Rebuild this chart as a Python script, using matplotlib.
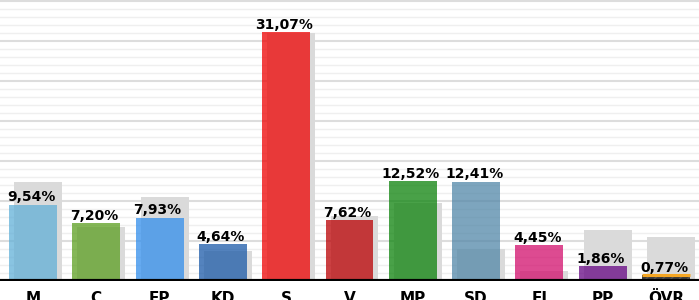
import numpy as np
import matplotlib
matplotlib.use('Agg')
import matplotlib.pyplot as plt
from matplotlib.transforms import blended_transform_factory

parties = ['M', 'C', 'FP', 'KD', 'S', 'V', 'MP', 'SD', 'FI', 'PP', 'ÖVR']
result = [9.54, 7.20, 7.93, 4.64, 31.07, 7.62, 12.52, 12.41, 4.45, 1.86, 0.77]
previous = [12.4, 6.8, 10.5, 3.7, 31.0, 8.1, 9.8, 4.0, 1.3, 6.4, 5.5]
colors = ['#62b0d7', '#5c9f20', '#328eec', '#1b5aa8', '#ee0303', '#ba0003',
          '#0c820b', '#5287a8', '#d20e6c', '#660683', '#3c3c3c']

labels = [f'{v:.2f}%'.replace('.', ',') for v in result]

fig = plt.figure(figsize=(6.99, 3.0), dpi=100)
ax = fig.add_axes((0, 19/300, 1, 281/300))

x = np.arange(len(parties))
w = 0.758
shift = 0.079

# grid
ax.set_yticks(np.arange(0, 36, 5))
ax.set_yticks(np.arange(0, 36, 1), minor=True)
ax.grid(axis='y', which='major', color='#dddddd', lw=1.5, zorder=0)
ax.grid(axis='y', which='minor', color='#efefef', lw=1, zorder=0)
ax.set_axisbelow(True)

ax.bar(x + shift, previous, width=w, color='#dadada', zorder=1)
bars = ax.bar(x, result, width=w, color=colors, alpha=0.75, zorder=2)

# others: hatched dark bar with orange cap
bars[-1].set_alpha(1)
bars[-1].set_hatch('////')
bars[-1].set_edgecolor('#555555')
bars[-1].set_linewidth(0)
ax.hlines(result[-1], x[-1] - w/2, x[-1] + w/2, color='#f5a623', lw=2.2, zorder=3)

for xi, v, lab in zip(x, result, labels):
    ax.annotate(lab, (xi - 0.03, v), xytext=(0, 2.4), textcoords='offset points',
                ha='center', va='baseline', fontsize=10, fontweight='bold',
                color='black', zorder=4)

trans = blended_transform_factory(ax.transData, ax.transAxes)
for xi, p in zip(x, parties):
    ax.text(xi, -0.077, p, transform=trans, ha='center', va='baseline',
            fontsize=11, fontweight='bold', clip_on=False)

ax.axhline(0, color='black', lw=3, zorder=5)

ax.set_xlim(-0.52, 10.52)
ax.set_ylim(0, 35.125)
ax.set_xticks([])
ax.tick_params(axis='y', which='both', left=False, labelleft=False)
for s in ax.spines.values():
    s.set_visible(False)

fig.savefig('out.png', dpi=100)
